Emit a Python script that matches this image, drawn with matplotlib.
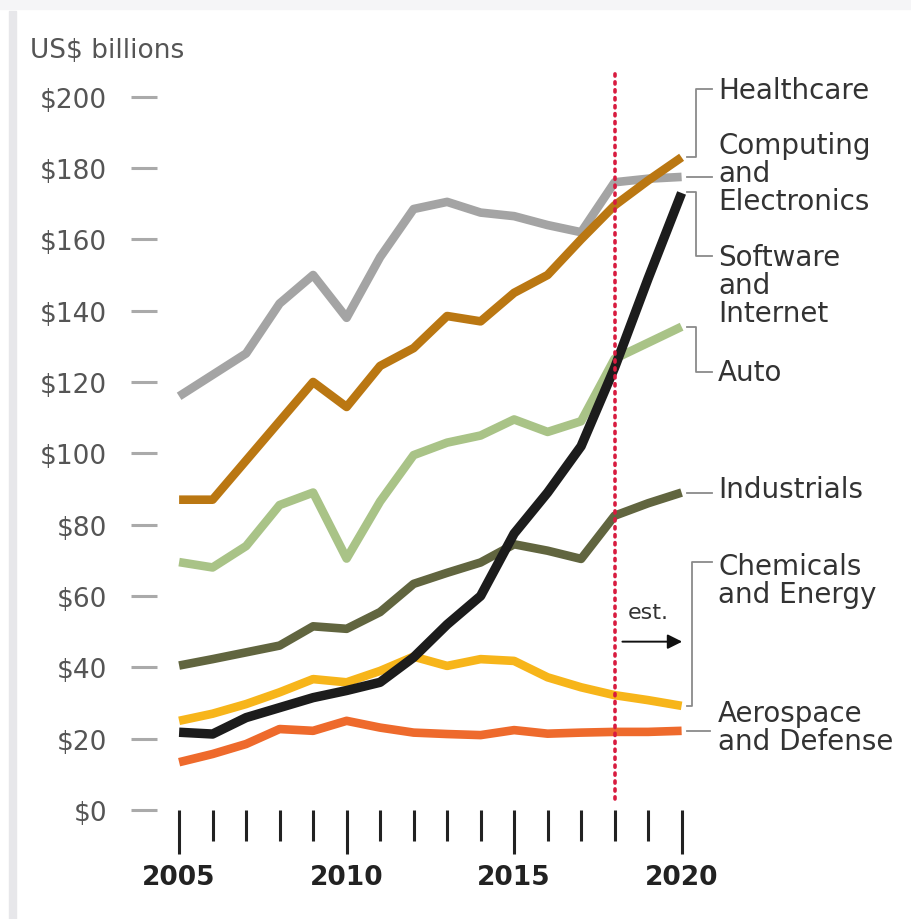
import numpy as np
import matplotlib.pyplot as plt
from matplotlib.patches import Rectangle

# anos e valores (US$ bilhoes)
anos = np.arange(2005, 2021)
healthcare = [87, 87, 98, 109, 120, 113, 124.5, 129.5, 138.5, 137, 145, 150, 160, 169.5, 176.5, 183]
computacao = [116, 122, 128, 142, 150, 138, 155, 168.5, 170.5, 167.5, 166.5, 164, 162, 176, 177, 177.5]
software = [21.8, 21.3, 25.9, 28.7, 31.5, 33.5, 35.8, 42.8, 52, 60, 77.5, 89, 102, 124, 149, 173]
auto = [69.5, 68, 74, 85.5, 89, 70.5, 86.5, 99.5, 103, 105, 109.5, 106, 109, 126.5, 131, 135.5]
industriais = [40.5, 42.3, 44.2, 46.1, 51.5, 50.8, 55.5, 63.4, 66.5, 69.4, 74.5, 72.7, 70.4, 82.5, 86, 89]
quimicos = [25, 27, 29.7, 33, 36.7, 35.8, 39, 43, 40.4, 42.3, 41.8, 37.2, 34.4, 32.2, 30.8, 29.2]
aeroespacial = [13.4, 15.7, 18.5, 22.7, 22.2, 25, 23.1, 21.7, 21.3, 21, 22.4, 21.4, 21.7, 21.9, 21.9, 22.2]

ano_estimativa = 2018
yticks = np.arange(0, 201, 20)
anos_rotulo = [2005, 2010, 2015, 2020]

# cores de cada setor
cores = {
    'aero': '#ee6a2c',
    'quim': '#f7b51a',
    'ind': '#61653f',
    'auto': '#a9c387',
    'comp': '#a4a4a4',
    'health': '#ba7712',
    'soft': '#1c1c1c',
}

fig = plt.figure(figsize=(9.12, 9.2), dpi=100, facecolor='white')
# moldura cinza clara do original
fig.patches.append(Rectangle((9 / 912, 0), 7 / 912, 1 - 12 / 920, transform=fig.transFigure,
                             color='#e7e7ea', zorder=0))
fig.patches.append(Rectangle((0, 1 - 10 / 920), 1, 10 / 920, transform=fig.transFigure,
                             color='#f5f5f7', zorder=0))

ax = fig.add_axes([157 / 912, 109 / 920, (701.7 - 157) / 912, (811 - 62) / 920])
ax.set_xlim(2004.34, 2020.6)
ax.set_ylim(0, 210)
for s in ax.spines.values():
    s.set_visible(False)

lw = 6.2
ax.plot(anos, aeroespacial, color=cores['aero'], lw=lw, zorder=2, solid_capstyle='butt')
ax.plot(anos, quimicos, color=cores['quim'], lw=lw, zorder=3, solid_capstyle='butt')
ax.plot(anos, industriais, color=cores['ind'], lw=lw, zorder=4, solid_capstyle='butt')
ax.plot(anos, auto, color=cores['auto'], lw=lw, zorder=5, solid_capstyle='butt')
ax.plot(anos, computacao, color=cores['comp'], lw=lw, zorder=6, solid_capstyle='butt')
ax.plot(anos, healthcare, color=cores['health'], lw=lw, zorder=7, solid_capstyle='butt')
ax.plot(anos, software, color=cores['soft'], lw=lw + 0.6, zorder=8, solid_capstyle='butt')

# linha pontilhada da estimativa
ax.plot([ano_estimativa, ano_estimativa], [3, 206.5], color='#d81b3f', lw=2.6,
        linestyle=(0, (0.6, 1.6)), dash_capstyle='round', zorder=9, clip_on=False)
ax.text(2019.0, 55.5, 'est.', ha='center', va='center', fontsize=16, color='#333333')
ax.annotate('', xy=(2020.1, 47.2), xytext=(2018.15, 47.2),
            arrowprops=dict(arrowstyle='-|>', color='#111111', lw=1.4, mutation_scale=22))

# eixos
ax.set_yticks(yticks)
ax.set_yticklabels(['$' + str(v) for v in yticks])
ax.tick_params(axis='y', length=19, width=2.2, color='#aaaaaa', pad=17,
               labelsize=19, labelcolor='#555555')
ax.set_xticks(anos_rotulo)
ax.set_xticklabels([str(a) for a in anos_rotulo])
ax.set_xticks(anos, minor=True)
ax.tick_params(axis='x', which='major', length=32, width=2.2, color='#222222', pad=7,
               labelsize=19, labelcolor='#222222')
ax.tick_params(axis='x', which='minor', length=22, width=2.2, color='#222222')
for t in ax.get_xticklabels():
    t.set_fontweight('bold')

fig.text(30 / 912, 1 - 51 / 920, 'US$ billions', fontsize=19, color='#555555', va='center')

# rotulos da direita com conectores
cc = '#8a8a8a'
clw = 1.3
x0, xb, x1, xt = 2020.15, 2020.43, 2020.91, 2021.09
kw = dict(fontsize=20, color='#333333', ha='left', va='center', clip_on=False,
          linespacing=1.0)

ax.plot([x0, xb, xb, x1], [183, 183, 202.2, 202.2], color=cc, lw=clw, clip_on=False)
ax.text(xt, 202, 'Healthcare', **kw)

ax.plot([x0, x1], [177.4, 177.4], color=cc, lw=clw, clip_on=False)
ax.text(xt, 178.6, 'Computing\nand\nElectronics', **kw)

ax.plot([x0, xb, xb, x1], [173.3, 173.3, 155.4, 155.4], color=cc, lw=clw, clip_on=False)
ax.text(xt, 147.3, 'Software\nand\nInternet', **kw)

ax.plot([x0, xb, xb, x1], [135.5, 135.5, 122.8, 122.8], color=cc, lw=clw, clip_on=False)
ax.text(xt, 122.8, 'Auto', **kw)

ax.plot([x0, x1], [89, 89], color=cc, lw=clw, clip_on=False)
ax.text(xt, 90, 'Industrials', **kw)

ax.plot([x0, 2020.30, 2020.30, x1], [29.2, 29.2, 69.5, 69.5], color=cc, lw=clw, clip_on=False)
ax.text(xt, 64.4, 'Chemicals\nand Energy', **kw)

ax.plot([x0, 2020.85], [22.2, 22.2], color=cc, lw=clw, clip_on=False)
ax.text(xt, 23.3, 'Aerospace\nand Defense', **kw)

fig.savefig('out.png', dpi=100, facecolor=fig.get_facecolor())
